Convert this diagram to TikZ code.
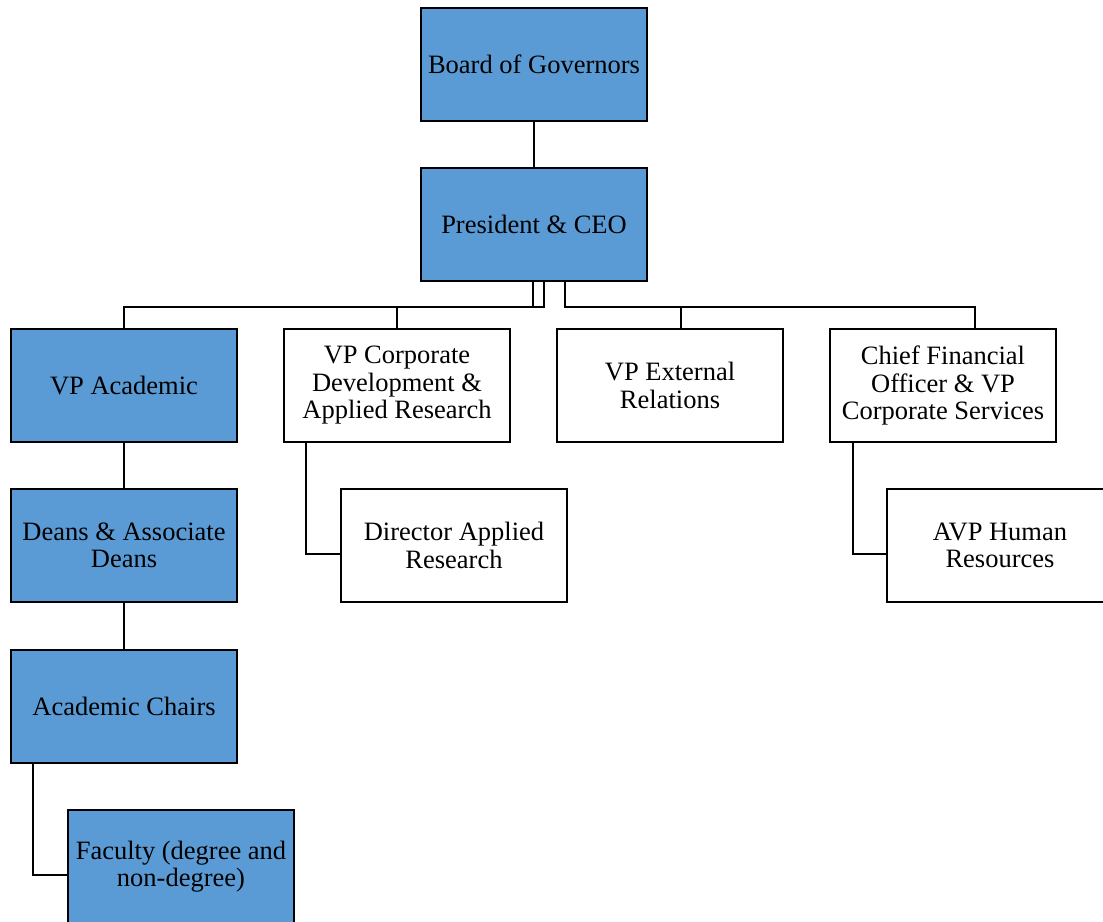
\documentclass[tikz,border=0pt]{standalone}
\usepackage{fontspec}
\setmainfont{Liberation Serif}
\definecolor{boxblue}{HTML}{5B9BD5}
\begin{document}
\begin{tikzpicture}[x=1pt,y=-1pt,
  orgbox/.style={draw=black,line width=2.5pt,minimum width=226pt,minimum height=113pt,
    align=center,inner sep=0pt,font=\fontsize{26.5}{27.5}\selectfont},
  bluebox/.style={orgbox,fill=boxblue},
  whitebox/.style={orgbox,fill=white},
  conn/.style={draw=black,line width=2pt}]
\useasboundingbox (0,0) rectangle (1103,921);
\coordinate (bar) at (0,307);
\node[bluebox] (board) at (534,64.5) {Board of Governors};
\node[bluebox] (pres) at (534,224.5) {President \& CEO};
\node[bluebox] (vpa) at (124,385.5) {VP Academic};
\node[whitebox] (vpc) at (397,385.5) {VP Corporate\\Development \&\\Applied Research};
\node[whitebox] (vpe) at (670,385.5) {VP External\\Relations};
\node[whitebox] (cfo) at (943,385.5) {Chief Financial\\Officer \& VP\\Corporate Services};
\node[bluebox] (deans) at (124,545.5) {Deans \& Associate\\Deans};
\node[bluebox] (chairs) at (124,706.5) {Academic Chairs};
\node[bluebox] (fac) at (181,866.5) {Faculty (degree and\\non-degree)};
\node[whitebox] (dir) at (454,545.5) {Director Applied\\Research};
\node[whitebox] (avp) at (1000,545.5) {AVP Human\\Resources};
\coordinate (vpetop) at ([xshift=11pt]vpe.north);
\coordinate (cfotop) at ([xshift=32pt]cfo.north);
\draw[conn] (board) -- (pres);
\draw[conn] ([xshift=-1pt]pres.south) |- (bar -| vpa.north) -- (vpa.north);
\draw[conn] ([xshift=10pt]pres.south) |- (bar -| vpc.north) -- (vpc.north);
\draw[conn] ([xshift=31pt]pres.south) |- (bar -| vpetop) -- (vpetop);
\draw[conn] ([xshift=31pt]pres.south) |- (bar -| cfotop) -- (cfotop);
\draw[conn] (vpa) -- (deans);
\draw[conn] (deans) -- (chairs);
\draw[conn] ([xshift=23pt]chairs.south west) |- ([yshift=-8.5pt]fac.west);
\draw[conn] ([xshift=23pt]vpc.south west) |- ([yshift=-8pt]dir.west);
\draw[conn] ([xshift=24pt]cfo.south west) |- ([yshift=-8pt]avp.west);
\end{tikzpicture}
\end{document}
